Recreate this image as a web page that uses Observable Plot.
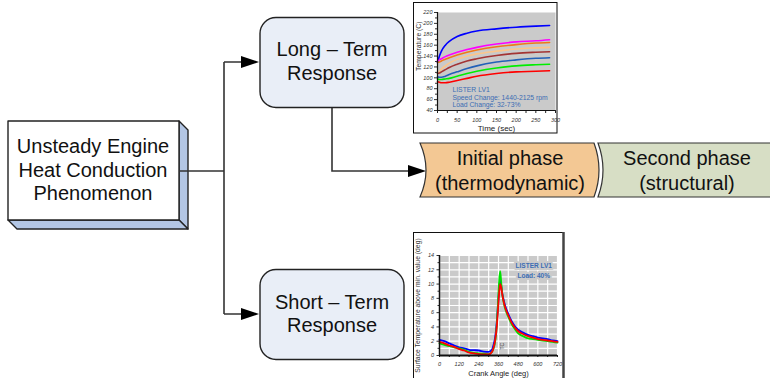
<!DOCTYPE html>
<html><head><meta charset="utf-8">
<script src="https://cdn.jsdelivr.net/npm/d3@7"></script>
<script src="https://cdn.jsdelivr.net/npm/@observablehq/plot@0.6"></script>
<style>
body{margin:0;background:#fff;}
#root{position:relative;width:770px;height:378px;overflow:hidden;font-family:"Liberation Sans",Arial,sans-serif;}
#root svg.plotpanel{position:absolute;}
</style></head>
<body><div id="root"></div>
<script>
// ---------- Long-term response chart data ----------
const timeSec = [0,5,10,20,30,50,75,100,150,200,250,285];
const longNames = ["S1","S2","S3","S4","S5","S6","S7","S8"];
const tempS1 = [128,140,149,160,167,176,182,186,190,193,195,196];
const tempS2 = [131,133,135,139,142,147,152,156,162,166,168,170];
const tempS3 = [128,129,131,134,137,142,147,151,157,161,164,165];
const tempS4 = [108,112,116,122,127,134,140,144,149,153,155,156];
const tempS5 = [108,109,111,115,119,125,131,135,141,145,147,148];
const tempS6 = [102,101,101,103,106,111,117,122,129,133,136,137];
const tempS7 = [98,97,97,98,99,103,108,112,118,122,124,125];
const tempS8 = [93,92,91,91,92,95,99,103,108,111,112,113];
const longTicksY = [40,60,80,100,120,140,160,180,200,220];
const longTicksX = [0,50,100,150,200,250,300];
const longNote = ["LISTER LV1","Speed Change: 1440-2125 rpm","Load Change: 32-73%"];

// ---------- Short-term response chart data ----------
const crankDeg = [0,30,60,90,120,150,180,210,240,270,300,320,330,340,350,358,364,370,376,382,390,400,420,440,460,480,510,540,570,600,630,660,690,720];
const shortNames = ["B","G","R"];
const surfB = [2.2,2.0,1.7,1.4,1.15,1.0,0.8,0.75,0.7,0.55,0.5,0.8,1.5,2.6,4.8,7.4,9.4,10.6,9.8,8.8,7.9,7.0,5.8,4.8,4.1,3.6,3.2,2.9,2.7,2.5,2.4,2.3,2.1,2.0];
const surfG = [1.7,1.5,1.3,1.15,1.0,0.8,0.5,0.35,0.3,0.25,0.2,0.5,1.0,2.0,4.5,7.8,10.4,11.8,10.4,8.8,7.6,6.6,5.4,4.4,3.7,3.1,2.7,2.4,2.3,2.2,2.1,2.0,1.9,1.8];
const surfR = [1.9,1.7,1.4,1.2,0.9,0.7,0.4,0.3,0.2,0.15,0.15,0.5,1.1,2.2,4.2,6.8,8.8,10.0,9.6,8.7,7.7,6.8,5.6,4.6,3.9,3.4,3.0,2.7,2.5,2.3,2.2,2.1,2.0,1.9];
const shortTicksX = [0,120,240,360,480,600,720];
const shortTicksY = [0,2,4,6,8,10,12,14];
const shortNote = ["LISTER LV1","Load: 40%"];

// ---------- styles ----------
const longColors = ["#0000ff","#ff00ff","#f07818","#fcc58a","#a33434","#2260b8","#00ee00","#ff0000"];
const shortColors = ["#0000ff","#00e000","#ff0000"];
const FONT = '"Liberation Sans", Arial, sans-serif';

const root = document.getElementById("root");

// ---------- diagram (static layout) ----------
const NS = "http://www.w3.org/2000/svg";
const dg = document.createElementNS(NS,"svg");
dg.setAttribute("width",770); dg.setAttribute("height",378);
dg.style.position="absolute"; dg.style.left="0"; dg.style.top="0";
dg.innerHTML = `
<g stroke="#222" stroke-width="1.4" stroke-linejoin="round">
  <polygon points="179,121 188,130 188,229 179,220" fill="#b3c6e4"/>
  <polygon points="8,220 179,220 188,229 17,229" fill="#b3c6e4"/>
  <rect x="8" y="121" width="171" height="99" fill="#fff"/>
</g>
<g stroke="#333" stroke-width="1.6" fill="none">
  <path d="M179,171 H224 M224,62 V314 M224,62 H242 M224,314 H242 M332,107 V171 H409"/>
</g>
<g fill="#000">
  <polygon points="241,56 259,62 241,68"/>
  <polygon points="241,308 259,314 241,320"/>
  <polygon points="408,165 426,171 408,177"/>
</g>
<g stroke="#222" stroke-width="1.4" fill="#e9eef7">
  <rect x="260" y="17.5" width="144" height="90" rx="16" ry="16"/>
  <rect x="260" y="269.5" width="144" height="90" rx="16" ry="16"/>
</g>
<g stroke="#333" stroke-width="1.2">
  <path d="M420,143 L594,143 Q604,170 594,197 L420,197 Q432,170 420,143 Z" fill="#f3c894"/>
  <path d="M598,143 L775,143 L775,197 L598,197 Q608,170 598,143 Z" fill="#d7dec5"/>
</g>
<g font-family='${FONT}' font-size="20" fill="#111" text-anchor="middle">
  <text x="93" y="153">Unsteady Engine</text>
  <text x="93" y="176.5">Heat Conduction</text>
  <text x="93" y="200">Phenomenon</text>
  <text x="332" y="56">Long – Term</text>
  <text x="332" y="80">Response</text>
  <text x="332" y="308.5">Short – Term</text>
  <text x="332" y="332">Response</text>
  <text x="510" y="165">Initial phase</text>
  <text x="510" y="190">(thermodynamic)</text>
  <text x="687" y="165">Second phase</text>
  <text x="687" y="190">(structural)</text>
</g>
<rect x="413.5" y="2.5" width="143.5" height="130.5" fill="#fff" stroke="#111" stroke-width="1"/>
<rect x="413.5" y="232.5" width="150" height="150" fill="#fff" stroke="#111" stroke-width="1"/>
<line x1="563.5" y1="232" x2="563.5" y2="378" stroke="#444" stroke-width="2.5"/>
`;
root.appendChild(dg);

// ---------- long-term chart ----------
const longVals = [tempS1,tempS2,tempS3,tempS4,tempS5,tempS6,tempS7,tempS8];
const longData = longNames.flatMap((n,i)=> timeSec.map((t,j)=>({t, v:longVals[i][j], s:n})));
const noteBlue = "#3c6db4";
const longPlot = Plot.plot({
  width:144, height:130,
  marginLeft:24, marginRight:2, marginTop:9, marginBottom:23,
  style:{background:"transparent", fontFamily:FONT, overflow:"visible"},
  x:{domain:[0,300], label:null},
  y:{domain:[40,220], label:null},
  color:{domain:longNames, range:longColors},
  marks:[
    Plot.frame({fill:"#cacaca", stroke:null}),
    Plot.axisY(d3.range(50,220,20), {tickSize:2, text:null, stroke:"#333"}),
    Plot.axisY(longTicksY, {tickSize:3, tickPadding:2, fontSize:5.5, fontStyle:"italic", fill:"#333", stroke:"#333"}),
    Plot.axisX(d3.range(0,301,25), {tickSize:3, text:null, stroke:"#222"}),
    Plot.axisX(longTicksX, {tickSize:0, tickPadding:8, fontSize:5.5, fontStyle:"italic", fill:"#333"}),
    Plot.line(longData, {x:"t", y:"v", z:"s", stroke:"s", strokeWidth:1.6, curve:"monotone-x"}),
    Plot.ruleX([0], {stroke:"#111", strokeWidth:1.2}),
    Plot.ruleY([40], {stroke:"#111", strokeWidth:1.2}),
    Plot.text([longNote[0]], {x:38, y:73.5, text:d=>d, textAnchor:"start", lineAnchor:"bottom", fill:noteBlue, fontSize:6.8}),
    Plot.text([longNote[1]], {x:38, y:60, text:d=>d, textAnchor:"start", lineAnchor:"bottom", fill:noteBlue, fontSize:6.8}),
    Plot.text([longNote[2]], {x:38, y:46.5, text:d=>d, textAnchor:"start", lineAnchor:"bottom", fill:noteBlue, fontSize:6.8}),
    Plot.text(["Time (sec)"], {x:150, y:40, text:d=>d, dy:18, lineAnchor:"middle", fontSize:8, fill:"#222"}),
    Plot.text(["Temperature (C)"], {x:0, y:158, text:d=>d, dx:-19, rotate:-90, fontSize:6.8, fill:"#333"})
  ]
});
longPlot.classList.add("plotpanel");
longPlot.style.left="413px"; longPlot.style.top="3px";
root.appendChild(longPlot);

// ---------- short-term chart ----------
const shortVals = [surfB,surfG,surfR];
const shortData = shortNames.flatMap((n,i)=> crankDeg.map((a,j)=>({a, v:shortVals[i][j], s:n})));
const shortPlot = Plot.plot({
  width:150, height:145,
  marginLeft:26, marginRight:6, marginTop:22, marginBottom:23,
  style:{background:"transparent", fontFamily:FONT, overflow:"visible"},
  x:{domain:[0,720], label:null},
  y:{domain:[0,14], label:null},
  color:{domain:shortNames, range:shortColors},
  marks:[
    Plot.frame({fill:"#cacaca", stroke:null}),
    Plot.gridX(d3.range(0,721,60), {stroke:"#fff", strokeOpacity:1, strokeWidth:1.2}),
    Plot.gridY(d3.range(0,15,1), {stroke:"#fff", strokeOpacity:1, strokeWidth:1.2}),
    Plot.axisY(d3.range(1,14,2), {tickSize:1.5, text:null, stroke:"#333"}),
    Plot.axisY(shortTicksY, {tickSize:2.5, tickPadding:3, fontSize:5.5, fontStyle:"italic", fill:"#333", stroke:"#333"}),
    Plot.axisX(d3.range(0,721,60), {tickSize:2, text:null, stroke:"#222"}),
    Plot.axisX(shortTicksX, {tickSize:0, tickPadding:7, fontSize:5.5, fontStyle:"italic", fill:"#333"}),
    Plot.line(shortData, {x:"a", y:"v", z:"s", stroke:"s", strokeWidth:1.8, curve:"monotone-x"}),
    Plot.ruleX([0], {stroke:"#111", strokeWidth:1.5}),
    Plot.ruleY([0], {stroke:"#111", strokeWidth:1.8}),
    Plot.text(["TC"], {x:384, y:1.3, text:d=>d, rotate:-90, fontSize:5, fill:"#333"}),
    Plot.text([shortNote[0]], {x:575, y:12.3, text:d=>d, lineAnchor:"bottom", fill:noteBlue, fontWeight:"bold", fontSize:6.5, stroke:"#cacaca", strokeWidth:4}),
    Plot.text([shortNote[1]], {x:575, y:10.9, text:d=>d, lineAnchor:"bottom", fill:noteBlue, fontWeight:"bold", fontSize:6.5, stroke:"#cacaca", strokeWidth:4}),
    Plot.text(["Crank Angle (deg)"], {x:360, y:0, text:d=>d, dy:18, lineAnchor:"middle", fontSize:7.5, fill:"#222"}),
    Plot.text(["Surface Temperature above min. value (deg)"], {x:0, y:7, text:d=>d, dx:-22, dy:0, rotate:-90, fontSize:6.8, fill:"#333"})
  ]
});
shortPlot.classList.add("plotpanel");
shortPlot.style.left="413px"; shortPlot.style.top="233px";
root.appendChild(shortPlot);
</script>
</body></html>
